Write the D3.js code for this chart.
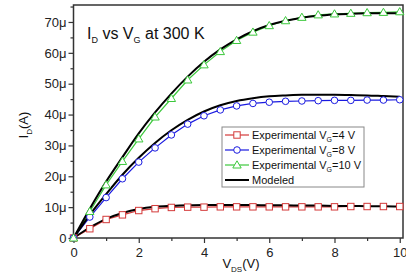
<!DOCTYPE html>
<html>
<head>
<meta charset="utf-8">
<script src="https://cdn.jsdelivr.net/npm/d3@7"></script>
<style>
  body { margin: 0; background: #fff; }
  svg { display: block; font-family: "Liberation Sans", Arial, sans-serif; }
</style>
</head>
<body>
<svg id="chart"></svg>
<script>
// drain voltage (V)
const vds = [0, 0.5, 1, 1.5, 2, 2.5, 3, 3.5, 4, 4.5, 5, 5.5, 6, 6.5, 7, 7.5, 8, 8.5, 9, 9.5, 10];

// drain current in µA
const expVg4  = [0, 3.0, 6.0, 7.5, 8.9, 9.5, 9.9, 10.0, 10.0, 10.1, 10.1, 10.1, 10.1, 10.1, 10.1, 10.1, 10.1, 10.2, 10.2, 10.2, 10.2];
const expVg8  = [0, 6.8, 13.1, 19.2, 24.6, 29.2, 33.4, 36.9, 39.6, 41.5, 42.8, 43.6, 44.0, 44.3, 44.4, 44.5, 44.6, 44.6, 44.7, 44.7, 44.8];
const expVg10 = [0, 8.6, 17.2, 24.8, 32.1, 39.2, 45.2, 51.2, 56.1, 60.4, 64.0, 66.7, 68.8, 70.4, 71.5, 72.3, 72.6, 72.8, 73.0, 73.1, 73.3];

const modVg4  = [0, 3.4, 6.2, 8.1, 9.4, 10.1, 10.4, 10.6, 10.7, 10.7, 10.7, 10.7, 10.6, 10.6, 10.5, 10.5, 10.4, 10.4, 10.3, 10.3, 10.2];
const modVg8  = [0, 7.5, 14.2, 20.5, 26.0, 30.8, 34.9, 38.3, 41.0, 43.0, 44.4, 45.3, 45.9, 46.2, 46.4, 46.4, 46.4, 46.3, 46.2, 46.0, 45.8];
const modVg10 = [0, 9.5, 18.3, 26.2, 33.9, 40.7, 46.8, 52.3, 57.1, 61.1, 64.4, 67.0, 69.0, 70.4, 71.4, 72.0, 72.4, 72.7, 72.8, 72.8, 72.8];

const xTicks = [0, 2, 4, 6, 8, 10];
const xMinor = [1, 3, 5, 7, 9];
const yTicks = [0, 10, 20, 30, 40, 50, 60, 70];
const yMinor = [5, 15, 25, 35, 45, 55, 65, 75];

const legendGate = ["4", "8", "10"];

let svg = d3.select("#chart").attr("width", 406).attr("height", 276),
  margin = {top: 5, right: 3, bottom: 38, left: 73.5},
  width = +svg.attr("width") - margin.left - margin.right,
  height = +svg.attr("height") - margin.top - margin.bottom,
  g = svg.append("g").attr("transform", "translate(" + margin.left + "," + margin.top + ")");

let xScale = d3.scaleLinear().domain([0, 10.1]).range([0, width]);
let yScale = d3.scaleLinear().domain([0, 75.5]).range([height, 0]);

// minor ticks first, then major with labels
g.append("g")
  .attr("transform", "translate(0," + height + ")")
  .call(d3.axisBottom(xScale).tickValues(xMinor).tickSize(3).tickFormat(""))
  .call(s => s.select(".domain").remove());
g.append("g")
  .call(d3.axisLeft(yScale).tickValues(yMinor.filter(v => v < 75.5)).tickSize(3).tickFormat(""))
  .call(s => s.select(".domain").remove());

g.append("g")
  .attr("transform", "translate(0," + height + ")")
  .call(d3.axisBottom(xScale).tickValues(xTicks).tickSize(5).tickPadding(5).tickFormat(d3.format("d")))
  .call(s => s.select(".domain").remove())
  .selectAll("text").style("font-size", "13px").attr("fill", "#222");

g.append("g")
  .call(d3.axisLeft(yScale).tickValues(yTicks).tickSize(5).tickPadding(2)
    .tickFormat(d => d === 0 ? "0" : d + "\u03bc"))
  .call(s => s.select(".domain").remove())
  .selectAll("text").style("font-size", "13px").attr("fill", "#222");

g.selectAll(".tick line").attr("stroke", "#333").attr("stroke-width", 1.2);

// frame
g.append("rect")
  .attr("x", 0).attr("y", 0)
  .attr("width", width).attr("height", height)
  .attr("fill", "none")
  .attr("stroke", "#333")
  .attr("stroke-width", 1.5);

let line = d3.line()
  .x((d, i) => xScale(vds[i]))
  .y(d => yScale(d));

let smooth = d3.line()
  .x((d, i) => xScale(vds[i]))
  .y(d => yScale(d))
  .curve(d3.curveMonotoneX);

const series = [
  {values: expVg4, color: "#d43a3a", shape: "square"},
  {values: expVg8, color: "#1a1ae0", shape: "circle"},
  {values: expVg10, color: "#3cc83c", shape: "triangle"}
];

function marker(sel, shape, color) {
  if (shape === "square") {
    sel.append("rect").attr("x", -3.2).attr("y", -3.2).attr("width", 6.4).attr("height", 6.4);
  } else if (shape === "circle") {
    sel.append("circle").attr("r", 3.3);
  } else {
    sel.append("path").attr("d", "M0,-4.2L4.2,3L-4.2,3Z");
  }
  sel.selectAll("rect,circle,path")
    .attr("fill", "#fff")
    .attr("stroke", color)
    .attr("stroke-width", 1);
}

series.forEach(s => {
  g.append("path")
    .datum(s.values)
    .attr("fill", "none")
    .attr("stroke", s.color)
    .attr("stroke-width", 1.2)
    .attr("d", line);
});

// modeled curves
[modVg4, modVg8, modVg10].forEach(m => {
  g.append("path")
    .datum(m)
    .attr("fill", "none")
    .attr("stroke", "#000")
    .attr("stroke-width", 2)
    .attr("stroke-linejoin", "round")
    .attr("d", smooth);
});

series.forEach(s => {
  g.selectAll(null)
    .data(s.values)
    .enter().append("g")
    .attr("transform", (d, i) => "translate(" + xScale(vds[i]) + "," + yScale(d) + ")")
    .each(function() { marker(d3.select(this), s.shape, s.color); });
});

// title
let title = svg.append("text")
  .attr("x", 87).attr("y", 39)
  .style("font-size", "16px")
  .attr("fill", "#111");
title.append("tspan").text("I");
title.append("tspan").attr("dy", 4).style("font-size", "9px").text("D");
title.append("tspan").attr("dy", -4).text(" vs V");
title.append("tspan").attr("dy", 4).style("font-size", "9px").text("G");
title.append("tspan").attr("dy", -4).text(" at 300 K");

// legend
let legend = svg.append("g").attr("transform", "translate(222,127)");
legend.append("rect")
  .attr("width", 142).attr("height", 60)
  .attr("fill", "#fff")
  .attr("stroke", "#888")
  .attr("stroke-width", 1);

series.forEach((s, i) => {
  let row = legend.append("g").attr("transform", "translate(0," + (8 + i * 15) + ")");
  row.append("line").attr("x1", 3).attr("x2", 27).attr("stroke", s.color).attr("stroke-width", 1.2);
  marker(row.append("g").attr("transform", "translate(15,0)"), s.shape, s.color);
  let t = row.append("text").attr("x", 30).attr("y", 4).style("font-size", "11px").attr("fill", "#111");
  t.append("tspan").text("Experimental V");
  t.append("tspan").attr("dy", 3).style("font-size", "7px").text("G");
  t.append("tspan").attr("dy", -3).text("=" + legendGate[i] + " V");
});
let mrow = legend.append("g").attr("transform", "translate(0," + (8 + 3 * 15) + ")");
mrow.append("line").attr("x1", 3).attr("x2", 27).attr("stroke", "#000").attr("stroke-width", 2);
mrow.append("text").attr("x", 30).attr("y", 4).style("font-size", "11px").attr("fill", "#111").text("Modeled");

// axis titles
let xl = svg.append("text")
  .attr("x", 241).attr("y", 268)
  .attr("text-anchor", "middle")
  .style("font-size", "13px").attr("fill", "#111");
xl.append("tspan").text("V");
xl.append("tspan").attr("dy", 4).style("font-size", "8px").text("DS");
xl.append("tspan").attr("dy", -4).text("(V)");

let yl = svg.append("text")
  .attr("transform", "translate(28,125) rotate(-90)")
  .attr("text-anchor", "middle")
  .style("font-size", "13px").attr("fill", "#111");
yl.append("tspan").text("I");
yl.append("tspan").attr("dy", 4).style("font-size", "8px").text("D");
yl.append("tspan").attr("dy", -4).text("(A)");
</script>
</body>
</html>
